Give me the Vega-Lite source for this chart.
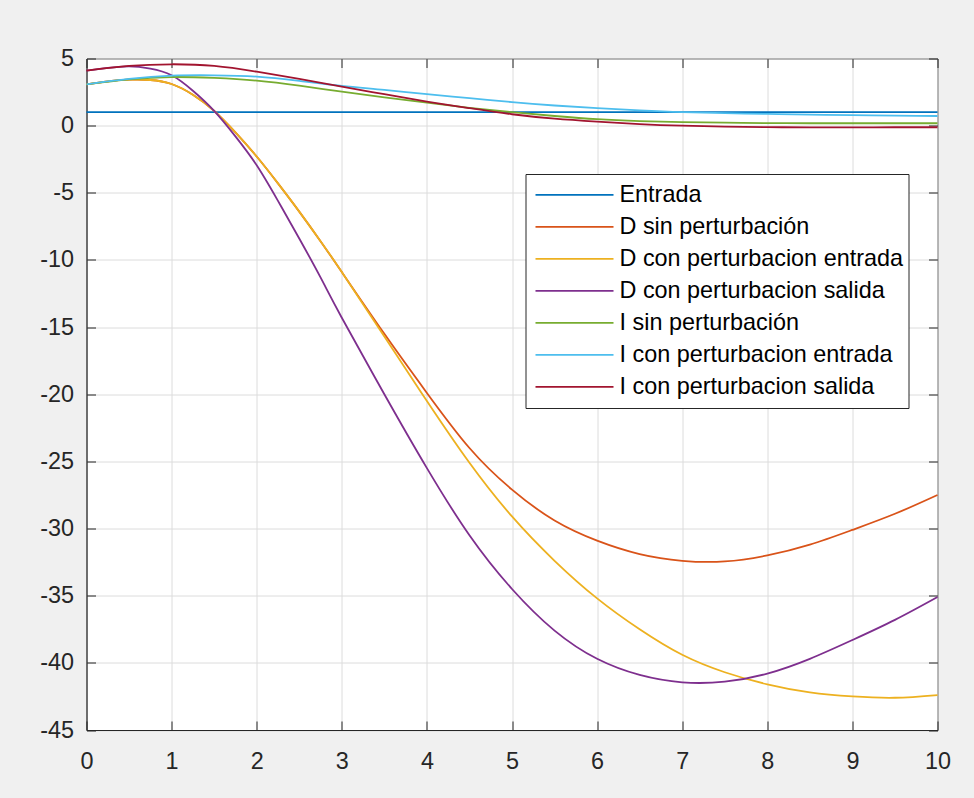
{
  "$schema": "https://vega.github.io/schema/vega-lite/v6.json",
  "width": 851,
  "height": 671.5,
  "autosize": {"type": "none"},
  "padding": {"left": 86.5, "top": 58.5, "right": 36.5, "bottom": 68},
  "background": "#f0f0f0",
  "config": {
    "view": {"fill": "white", "stroke": "#262626", "strokeWidth": 1},
    "font": "Liberation Sans",
    "axis": {
      "gridColor": "#dcdcdc",
      "gridWidth": 1,
      "domainColor": "#262626",
      "tickColor": "#262626",
      "labelColor": "#262626",
      "labelFont": "Liberation Sans",
      "labelFontSize": 23.4,
      "labelFlush": false,
      "labelExpr": "'' + datum.value",
      "title": null
    }
  },
  "data": {
    "values": [
      {"s": "Entrada", "x": 0, "y": 1},
      {"s": "Entrada", "x": 10, "y": 1},

      {"s": "D sin perturbación", "x": 0, "y": 3.08},
      {"s": "D sin perturbación", "x": 0.25, "y": 3.3},
      {"s": "D sin perturbación", "x": 0.5, "y": 3.42},
      {"s": "D sin perturbación", "x": 0.75, "y": 3.4},
      {"s": "D sin perturbación", "x": 1, "y": 3.1},
      {"s": "D sin perturbación", "x": 1.25, "y": 2.3},
      {"s": "D sin perturbación", "x": 1.5, "y": 1.1},
      {"s": "D sin perturbación", "x": 1.75, "y": -0.5},
      {"s": "D sin perturbación", "x": 2, "y": -2.3},
      {"s": "D sin perturbación", "x": 2.25, "y": -4.3},
      {"s": "D sin perturbación", "x": 2.5, "y": -6.4},
      {"s": "D sin perturbación", "x": 2.75, "y": -8.6},
      {"s": "D sin perturbación", "x": 3, "y": -10.9},
      {"s": "D sin perturbación", "x": 3.5, "y": -15.5},
      {"s": "D sin perturbación", "x": 4, "y": -19.9},
      {"s": "D sin perturbación", "x": 4.5, "y": -24.0},
      {"s": "D sin perturbación", "x": 5, "y": -27.1},
      {"s": "D sin perturbación", "x": 5.5, "y": -29.4},
      {"s": "D sin perturbación", "x": 6, "y": -30.9},
      {"s": "D sin perturbación", "x": 6.5, "y": -31.9},
      {"s": "D sin perturbación", "x": 7, "y": -32.4},
      {"s": "D sin perturbación", "x": 7.5, "y": -32.45},
      {"s": "D sin perturbación", "x": 8, "y": -32.0},
      {"s": "D sin perturbación", "x": 8.5, "y": -31.2},
      {"s": "D sin perturbación", "x": 9, "y": -30.1},
      {"s": "D sin perturbación", "x": 9.5, "y": -28.9},
      {"s": "D sin perturbación", "x": 10, "y": -27.5},

      {"s": "D con perturbacion entrada", "x": 0, "y": 3.08},
      {"s": "D con perturbacion entrada", "x": 0.25, "y": 3.3},
      {"s": "D con perturbacion entrada", "x": 0.5, "y": 3.42},
      {"s": "D con perturbacion entrada", "x": 0.75, "y": 3.4},
      {"s": "D con perturbacion entrada", "x": 1, "y": 3.1},
      {"s": "D con perturbacion entrada", "x": 1.25, "y": 2.3},
      {"s": "D con perturbacion entrada", "x": 1.5, "y": 1.1},
      {"s": "D con perturbacion entrada", "x": 1.75, "y": -0.5},
      {"s": "D con perturbacion entrada", "x": 2, "y": -2.3},
      {"s": "D con perturbacion entrada", "x": 2.25, "y": -4.3},
      {"s": "D con perturbacion entrada", "x": 2.5, "y": -6.4},
      {"s": "D con perturbacion entrada", "x": 2.75, "y": -8.6},
      {"s": "D con perturbacion entrada", "x": 3, "y": -10.9},
      {"s": "D con perturbacion entrada", "x": 3.5, "y": -15.7},
      {"s": "D con perturbacion entrada", "x": 4, "y": -20.5},
      {"s": "D con perturbacion entrada", "x": 4.5, "y": -25.1},
      {"s": "D con perturbacion entrada", "x": 5, "y": -29.1},
      {"s": "D con perturbacion entrada", "x": 5.5, "y": -32.4},
      {"s": "D con perturbacion entrada", "x": 6, "y": -35.2},
      {"s": "D con perturbacion entrada", "x": 6.5, "y": -37.5},
      {"s": "D con perturbacion entrada", "x": 7, "y": -39.4},
      {"s": "D con perturbacion entrada", "x": 7.5, "y": -40.7},
      {"s": "D con perturbacion entrada", "x": 8, "y": -41.6},
      {"s": "D con perturbacion entrada", "x": 8.5, "y": -42.2},
      {"s": "D con perturbacion entrada", "x": 9, "y": -42.5},
      {"s": "D con perturbacion entrada", "x": 9.5, "y": -42.6},
      {"s": "D con perturbacion entrada", "x": 10, "y": -42.4},

      {"s": "D con perturbacion salida", "x": 0, "y": 4.1},
      {"s": "D con perturbacion salida", "x": 0.25, "y": 4.3},
      {"s": "D con perturbacion salida", "x": 0.5, "y": 4.42},
      {"s": "D con perturbacion salida", "x": 0.75, "y": 4.25},
      {"s": "D con perturbacion salida", "x": 1, "y": 3.75},
      {"s": "D con perturbacion salida", "x": 1.25, "y": 2.6},
      {"s": "D con perturbacion salida", "x": 1.5, "y": 1.1},
      {"s": "D con perturbacion salida", "x": 1.75, "y": -0.8},
      {"s": "D con perturbacion salida", "x": 2, "y": -2.95},
      {"s": "D con perturbacion salida", "x": 2.25, "y": -5.6},
      {"s": "D con perturbacion salida", "x": 2.5, "y": -8.4},
      {"s": "D con perturbacion salida", "x": 2.75, "y": -11.3},
      {"s": "D con perturbacion salida", "x": 3, "y": -14.3},
      {"s": "D con perturbacion salida", "x": 3.5, "y": -20.0},
      {"s": "D con perturbacion salida", "x": 4, "y": -25.5},
      {"s": "D con perturbacion salida", "x": 4.5, "y": -30.5},
      {"s": "D con perturbacion salida", "x": 5, "y": -34.5},
      {"s": "D con perturbacion salida", "x": 5.5, "y": -37.6},
      {"s": "D con perturbacion salida", "x": 6, "y": -39.7},
      {"s": "D con perturbacion salida", "x": 6.5, "y": -40.9},
      {"s": "D con perturbacion salida", "x": 7, "y": -41.45},
      {"s": "D con perturbacion salida", "x": 7.5, "y": -41.4},
      {"s": "D con perturbacion salida", "x": 8, "y": -40.8},
      {"s": "D con perturbacion salida", "x": 8.5, "y": -39.7},
      {"s": "D con perturbacion salida", "x": 9, "y": -38.3},
      {"s": "D con perturbacion salida", "x": 9.5, "y": -36.8},
      {"s": "D con perturbacion salida", "x": 10, "y": -35.1},

      {"s": "I sin perturbación", "x": 0, "y": 3.08},
      {"s": "I sin perturbación", "x": 0.5, "y": 3.45},
      {"s": "I sin perturbación", "x": 1, "y": 3.62},
      {"s": "I sin perturbación", "x": 1.5, "y": 3.55},
      {"s": "I sin perturbación", "x": 2, "y": 3.35},
      {"s": "I sin perturbación", "x": 2.5, "y": 2.98},
      {"s": "I sin perturbación", "x": 3, "y": 2.53},
      {"s": "I sin perturbación", "x": 3.5, "y": 2.11},
      {"s": "I sin perturbación", "x": 4, "y": 1.71},
      {"s": "I sin perturbación", "x": 4.5, "y": 1.33},
      {"s": "I sin perturbación", "x": 5, "y": 1.0},
      {"s": "I sin perturbación", "x": 5.5, "y": 0.72},
      {"s": "I sin perturbación", "x": 6, "y": 0.48},
      {"s": "I sin perturbación", "x": 6.5, "y": 0.34},
      {"s": "I sin perturbación", "x": 7, "y": 0.26},
      {"s": "I sin perturbación", "x": 7.5, "y": 0.22},
      {"s": "I sin perturbación", "x": 8, "y": 0.19},
      {"s": "I sin perturbación", "x": 8.5, "y": 0.18},
      {"s": "I sin perturbación", "x": 9, "y": 0.18},
      {"s": "I sin perturbación", "x": 9.5, "y": 0.18},
      {"s": "I sin perturbación", "x": 10, "y": 0.18},

      {"s": "I con perturbacion entrada", "x": 0, "y": 3.08},
      {"s": "I con perturbacion entrada", "x": 0.5, "y": 3.48},
      {"s": "I con perturbacion entrada", "x": 1, "y": 3.72},
      {"s": "I con perturbacion entrada", "x": 1.5, "y": 3.75},
      {"s": "I con perturbacion entrada", "x": 2, "y": 3.65},
      {"s": "I con perturbacion entrada", "x": 2.5, "y": 3.33},
      {"s": "I con perturbacion entrada", "x": 3, "y": 2.96},
      {"s": "I con perturbacion entrada", "x": 3.5, "y": 2.66},
      {"s": "I con perturbacion entrada", "x": 4, "y": 2.34},
      {"s": "I con perturbacion entrada", "x": 4.5, "y": 2.05},
      {"s": "I con perturbacion entrada", "x": 5, "y": 1.75},
      {"s": "I con perturbacion entrada", "x": 5.5, "y": 1.5},
      {"s": "I con perturbacion entrada", "x": 6, "y": 1.3},
      {"s": "I con perturbacion entrada", "x": 6.5, "y": 1.13},
      {"s": "I con perturbacion entrada", "x": 7, "y": 1.0},
      {"s": "I con perturbacion entrada", "x": 7.5, "y": 0.93},
      {"s": "I con perturbacion entrada", "x": 8, "y": 0.87},
      {"s": "I con perturbacion entrada", "x": 8.5, "y": 0.82},
      {"s": "I con perturbacion entrada", "x": 9, "y": 0.78},
      {"s": "I con perturbacion entrada", "x": 9.5, "y": 0.75},
      {"s": "I con perturbacion entrada", "x": 10, "y": 0.72},

      {"s": "I con perturbacion salida", "x": 0, "y": 4.1},
      {"s": "I con perturbacion salida", "x": 0.5, "y": 4.45},
      {"s": "I con perturbacion salida", "x": 1, "y": 4.57},
      {"s": "I con perturbacion salida", "x": 1.5, "y": 4.45},
      {"s": "I con perturbacion salida", "x": 2, "y": 4.02},
      {"s": "I con perturbacion salida", "x": 2.5, "y": 3.48},
      {"s": "I con perturbacion salida", "x": 3, "y": 2.9},
      {"s": "I con perturbacion salida", "x": 3.5, "y": 2.34},
      {"s": "I con perturbacion salida", "x": 4, "y": 1.79},
      {"s": "I con perturbacion salida", "x": 4.5, "y": 1.3},
      {"s": "I con perturbacion salida", "x": 5, "y": 0.85},
      {"s": "I con perturbacion salida", "x": 5.5, "y": 0.52},
      {"s": "I con perturbacion salida", "x": 6, "y": 0.3},
      {"s": "I con perturbacion salida", "x": 6.5, "y": 0.12},
      {"s": "I con perturbacion salida", "x": 7, "y": 0.0},
      {"s": "I con perturbacion salida", "x": 7.5, "y": -0.07},
      {"s": "I con perturbacion salida", "x": 8, "y": -0.11},
      {"s": "I con perturbacion salida", "x": 8.5, "y": -0.13},
      {"s": "I con perturbacion salida", "x": 9, "y": -0.13},
      {"s": "I con perturbacion salida", "x": 9.5, "y": -0.12},
      {"s": "I con perturbacion salida", "x": 10, "y": -0.12}
    ]
  },
  "layer": [
    {
      "mark": {"type": "line", "interpolate": "natural", "strokeWidth": 1.8},
      "encoding": {
        "x": {
          "field": "x", "type": "quantitative",
          "scale": {"domain": [0, 10], "nice": false},
          "axis": {"orient": "bottom", "values": [0,1,2,3,4,5,6,7,8,9,10], "grid": true, "tickSize": -9, "labelPadding": 29}
        },
        "y": {
          "field": "y", "type": "quantitative",
          "scale": {"domain": [-45, 5], "nice": false},
          "axis": {"orient": "left", "values": [-45,-40,-35,-30,-25,-20,-15,-10,-5,0,5], "grid": true, "tickSize": -9, "labelPadding": 22}
        },
        "color": {
          "field": "s", "type": "nominal",
          "scale": {
            "domain": ["Entrada", "D sin perturbación", "D con perturbacion entrada", "D con perturbacion salida", "I sin perturbación", "I con perturbacion entrada", "I con perturbacion salida"],
            "range": ["#0072BD", "#D95319", "#EDB120", "#7E2F8E", "#77AC30", "#4DBEEE", "#A2142F"]
          },
          "legend": {
            "title": null,
            "orient": "none",
            "legendX": 439,
            "legendY": 115.5,
            "symbolType": "stroke",
            "symbolSize": 6084,
            "symbolStrokeWidth": 1.8,
            "clipHeight": 31.7,
            "rowPadding": 0,
            "padding": 5,
            "symbolOffset": 4,
            "labelOffset": 5,
            "labelFontSize": 23.4,
            "labelFont": "Liberation Sans",
            "labelColor": "#000000",
            "labelLimit": 400,
            "fillColor": "white",
            "strokeColor": "#262626"
          }
        }
      }
    },
    {
      "mark": {"type": "line", "opacity": 0},
      "encoding": {
        "x": {
          "field": "x", "type": "quantitative",
          "axis": {"orient": "top", "values": [0,1,2,3,4,5,6,7,8,9,10], "grid": false, "labels": false, "domain": false, "tickSize": -9}
        },
        "y": {
          "field": "y", "type": "quantitative",
          "axis": {"orient": "right", "values": [-45,-40,-35,-30,-25,-20,-15,-10,-5,0,5], "grid": false, "labels": false, "domain": false, "tickSize": -9}
        },
        "detail": {"field": "s"}
      }
    }
  ],
  "resolve": {"axis": {"x": "independent", "y": "independent"}}
}
